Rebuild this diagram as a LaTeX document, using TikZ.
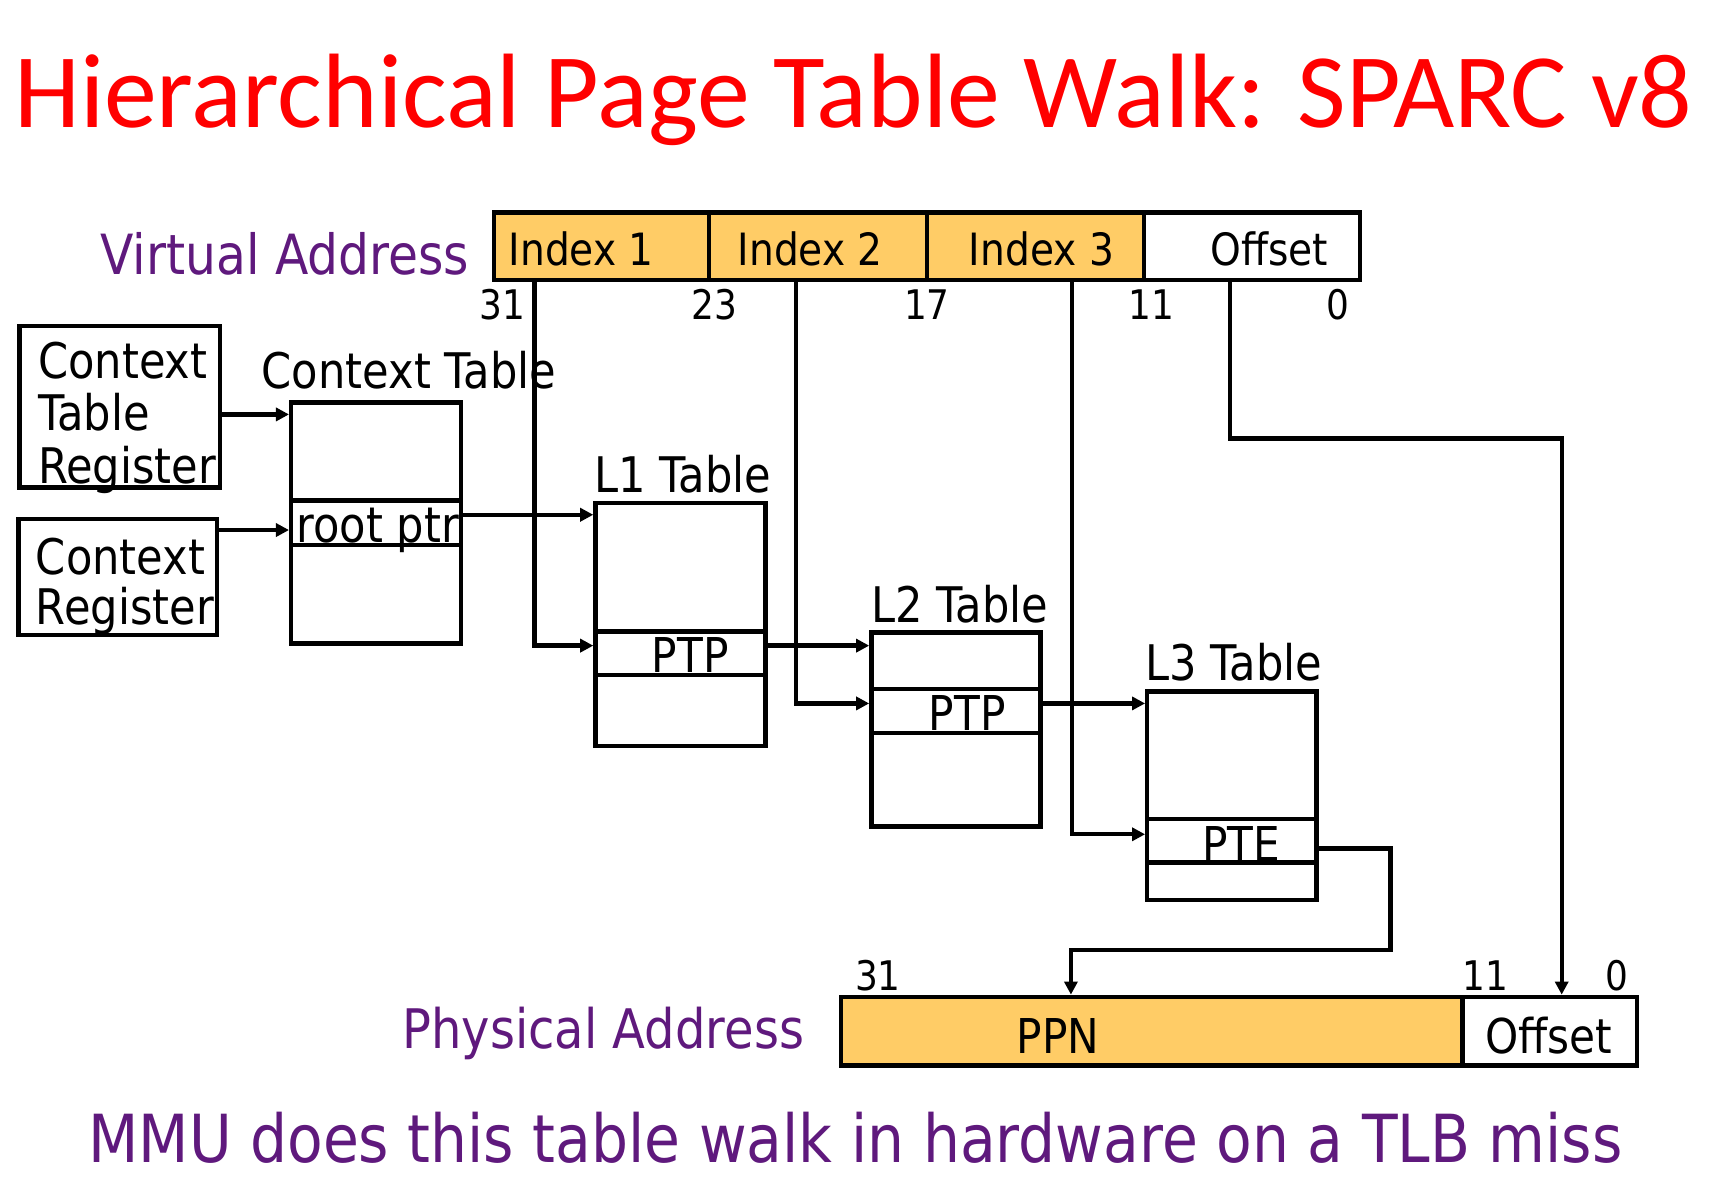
\documentclass[tikz,border=0pt]{standalone}
\usepackage{fontspec}
\setmainfont{DejaVu Sans}[FakeStretch=0.88]
\newfontfamily\titlefont{Carlito}
\usetikzlibrary{arrows.meta}
\definecolor{titlered}{RGB}{255,0,0}
\definecolor{vpurple}{RGB}{95,25,125}
\definecolor{fieldfill}{RGB}{255,204,102}
\begin{document}
\begin{tikzpicture}[x=0.5pt,y=-0.5pt,
  box/.style={draw,line width=2pt,inner sep=0pt,outer sep=0pt,anchor=center},
  txt/.style={inner sep=0pt,outer sep=0pt,anchor=base},
  txtw/.style={inner sep=0pt,outer sep=0pt,anchor=base west},
  fieldlbl/.style={txt,font=\fontsize{20.4}{24}\selectfont},
  bitlbl/.style={txt,font=\fontsize{18.7}{22}\selectfont},
  tbllbl/.style={txtw,font=\fontsize{22.5}{26}\selectfont},
  celllbl/.style={txt,font=\fontsize{22}{26}\selectfont},
  addrlbl/.style={txtw,font=\fontsize{25.4}{30}\selectfont,text=vpurple},
  conn/.style={line width=2pt},
  arr/.style={conn,-{Triangle[length=6pt,width=6pt]},shorten >=1pt},
]
\useasboundingbox (0,0) rectangle (1568,1084);

% title
\node[txtw,font=\titlefont\fontsize{48.5}{56}\selectfont,text=titlered] (title) at (13,117) {Hierarchical Page Table Walk: SPARC v8};

% virtual address
\node[addrlbl] (valbl) at (92,252) {Virtual Address};
\node[box,fill=fieldfill,minimum width=98.5pt,minimum height=31pt] (i1) at (551.5,226) {};
\node[box,fill=fieldfill,minimum width=100pt,minimum height=31pt] (i2) at (750,226) {};
\node[box,fill=fieldfill,minimum width=99.5pt,minimum height=31pt] (i3) at (949.5,226) {};
\node[box,fill=white,minimum width=99pt,minimum height=31pt] (voff) at (1148,226) {};
\node[fieldlbl] (i1t) at (533,243) {Index 1};
\node[fieldlbl] (i2t) at (743,243) {Index 2};
\node[fieldlbl] (i3t) at (955,243) {Index 3};
\node[fieldlbl] (vofft) at (1164,243) {Offset};
\node[bitlbl] (b31) at (461,293) {31};
\node[bitlbl] (b23) at (655,293) {23};
\node[bitlbl] (b17) at (850,293) {17};
\node[bitlbl] (b11) at (1056,293) {11};
\node[bitlbl] (b0) at (1227,293) {0};

% context table register
\node[box,minimum width=92pt,minimum height=74pt] (ctr) at (110,373) {};
\node[tbllbl] (ctr1) at (35,347) {Context};
\node[tbllbl] (ctr2) at (35,395) {Table};
\node[tbllbl] (ctr3) at (35,443) {Register};

% context register
\node[box,minimum width=91pt,minimum height=53pt] (cr) at (108,529) {};
\node[tbllbl] (cr1) at (33,527) {Context};
\node[tbllbl] (cr2) at (33,573) {Register};

% context table
\node[tbllbl] (ctlbl) at (240,356) {Context Table};
\node[box,minimum width=78pt,minimum height=110.5pt] (ct) at (345,479.5) {};
\node[box,minimum width=78pt,minimum height=20.5pt] (ctrow) at (345,479.5) {};
\node[tbllbl] (rootptr) at (272,497) {root ptr};

% L1 table
\node[tbllbl] (l1lbl) at (545,452) {L1 Table};
\node[box,minimum width=78pt,minimum height=111.5pt] (l1) at (624,572.5) {};
\node[box,minimum width=78pt,minimum height=20pt] (l1row) at (624,599) {};
\node[celllbl] (l1ptp) at (633,617) {PTP};

% L2 table
\node[tbllbl] (l2lbl) at (799,571) {L2 Table};
\node[box,minimum width=77.5pt,minimum height=89pt] (l2) at (876.5,669) {};
\node[box,minimum width=77.5pt,minimum height=20pt] (l2row) at (876.5,652) {};
\node[celllbl] (l2ptp) at (887,670) {PTP};

% L3 table
\node[tbllbl] (l3lbl) at (1050,624) {L3 Table};
\node[box,minimum width=77.5pt,minimum height=95.5pt] (l3) at (1129.5,729.5) {};
\node[box,minimum width=77.5pt,minimum height=20pt] (l3row) at (1129.5,771) {};
\node[celllbl] (l3pte) at (1138,790) {PTE};

% physical address
\node[addrlbl,font=\fontsize{25}{30}\selectfont] (palbl) at (369,961) {Physical Address};
\node[box,fill=fieldfill,minimum width=285pt,minimum height=31.5pt] (ppn) at (1056,945.5) {};
\node[box,fill=white,minimum width=80pt,minimum height=31.5pt] (poff) at (1421,945.5) {};
\node[celllbl] (ppnt) at (970,966) {PPN};
\node[celllbl] (pofft) at (1420,966) {Offset};
\node[bitlbl] (p31) at (805,908) {31};
\node[bitlbl] (p11) at (1362,908) {11};
\node[bitlbl] (p0) at (1483,908) {0};

% bottom note
\node[txtw,font=\fontsize{30.4}{36}\selectfont,text=vpurple] (note) at (81,1066) {MMU does this table walk in hardware on a TLB miss};

% connectors
\draw[arr] (ctr.east |- 0,380) -- (ct.west |- 0,380);
\draw[arr] (cr.east |- 0,486) -- (ct.west |- 0,486);
\draw[arr] (ctrow.east |- 427,472) -- (l1.west |- 0,472);
\draw[arr] (i1.south -| 490,0) |- (l1row.west |- 0,592);
\draw[arr] (l1row.east |- 707,592) -- (l2.west |- 0,592);
\draw[arr] (i2.south -| 730,0) |- (l2row.west |- 0,645);
\draw[arr] (l2row.east |- 959,645) -- (l3.west |- 0,645);
\draw[arr] (i3.south -| 983,0) |- (l3row.west |- 0,765);
\draw[arr] (voff.south -| 1128,0) |- (1432,402) -- (poff.north -| 1432,0);
\draw[arr] (l3row.east |- 0,778) -| (1275,871) -| (ppn.north -| 982,0);
\end{tikzpicture}
\end{document}
